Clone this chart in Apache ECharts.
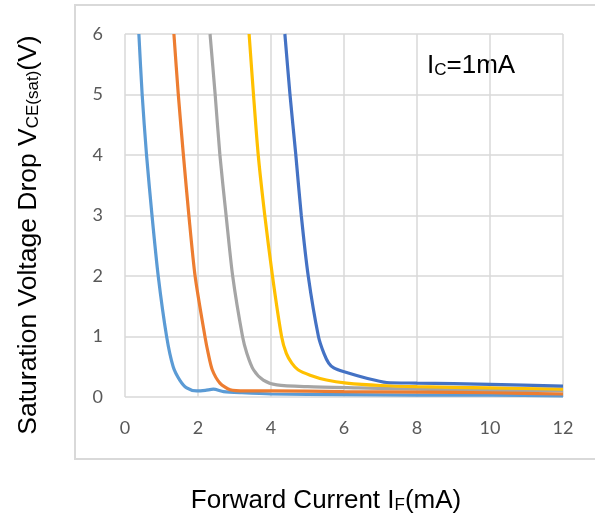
<!DOCTYPE html>
<html>
<head>
<meta charset="utf-8">
<script src="https://cdn.jsdelivr.net/npm/echarts@6/dist/echarts.min.js"></script>
<style>
html,body{margin:0;padding:0;background:#fff;}
#chart{width:595px;height:522px;}
</style>
</head>
<body>
<div id="chart"></div>
<script>
// Forward current IF (mA) and saturation voltage VCE(sat) (V) for each curve
const s1X = [0.38, 0.47, 0.59, 0.74, 0.91, 1.14, 1.32, 1.5, 1.69, 1.96, 2.2, 2.42, 2.7, 3.2, 4, 6, 8, 10, 12];
const s1Y = [6, 5, 4, 3, 2, 1, 0.5, 0.28, 0.15, 0.1, 0.11, 0.13, 0.09, 0.07, 0.05, 0.04, 0.03, 0.03, 0.02];

const s2X = [1.34, 1.46, 1.60, 1.75, 1.92, 2.19, 2.28, 2.39, 2.6, 2.88, 3.3, 4, 6, 8, 10, 12];
const s2Y = [6, 5, 4, 3, 2, 1, 0.72, 0.45, 0.23, 0.12, 0.1, 0.1, 0.09, 0.08, 0.07, 0.05];

const s3X = [2.33, 2.47, 2.60, 2.77, 2.95, 3.22, 3.34, 3.52, 3.79, 4.16, 5, 6.4, 8, 10, 12];
const s3Y = [6, 5, 4, 3, 2, 1, 0.72, 0.45, 0.28, 0.2, 0.17, 0.15, 0.13, 0.11, 0.1];

const s4X = [3.40, 3.52, 3.65, 3.83, 4.04, 4.29, 4.42, 4.57, 4.74, 5.07, 5.52, 6.07, 7, 8, 10, 12];
const s4Y = [6, 5, 4, 3, 2, 1, 0.72, 0.56, 0.45, 0.36, 0.28, 0.23, 0.19, 0.17, 0.15, 0.13];

const s5X = [4.38, 4.52, 4.68, 4.83, 5.02, 5.30, 5.45, 5.58, 5.72, 5.98, 6.62, 7.17, 8, 10, 12];
const s5Y = [6, 5, 4, 3, 2, 1, 0.72, 0.56, 0.48, 0.42, 0.31, 0.24, 0.23, 0.21, 0.18];

const xTicks = [0, 2, 4, 6, 8, 10, 12];
const yTicks = [0, 1, 2, 3, 4, 5, 6];

const seriesDefs = [
  {name: 'A', x: s1X, y: s1Y, color: '#5B9BD5'},
  {name: 'C', x: s3X, y: s3Y, color: '#A5A5A5'},
  {name: 'B', x: s2X, y: s2Y, color: '#ED7D31'},
  {name: 'D', x: s4X, y: s4Y, color: '#FFC000'},
  {name: 'E', x: s5X, y: s5Y, color: '#4472C4'}
];

const chart = echarts.init(document.getElementById('chart'), null, {renderer: 'canvas'});
const tickFont = {fontFamily: 'Lato', fontSize: 18, color: '#595959'};
const titleFont = 'Liberation Sans';

chart.setOption({
  animation: false,
  backgroundColor: '#ffffff',
  grid: {left: 125, right: 32, top: 34, bottom: 125, containLabel: false},
  xAxis: {
    type: 'value', min: xTicks[0], max: xTicks[xTicks.length - 1], interval: 2,
    axisLine: {show: false}, axisTick: {show: false},
    axisLabel: Object.assign({margin: 22}, tickFont),
    splitLine: {show: true, lineStyle: {color: '#D9D9D9', width: 1.5}}
  },
  yAxis: {
    type: 'value', min: yTicks[0], max: yTicks[yTicks.length - 1], interval: 1,
    axisLine: {show: false}, axisTick: {show: false},
    axisLabel: Object.assign({margin: 22}, tickFont),
    splitLine: {show: true, lineStyle: {color: '#D9D9D9', width: 1.5}}
  },
  series: seriesDefs.map(s => ({
    name: s.name,
    type: 'line',
    data: s.x.map((v, i) => [v, s.y[i]]),
    showSymbol: false,
    smooth: 0.25,
    clip: true,
    lineStyle: {color: s.color, width: 3.2},
    itemStyle: {color: s.color}
  })),
  graphic: [
    {
      type: 'rect', silent: true,
      shape: {x: 75, y: 5, width: 540, height: 454},
      style: {fill: 'none', stroke: '#D9D9D9', lineWidth: 2}
    },
    {
      type: 'text', x: 27, y: 235, rotation: Math.PI / 2,
      style: {
        text: '{a|Saturation Voltage Drop V}{b|CE(sat)}{a|(V)}',
        align: 'center', verticalAlign: 'middle',
        rich: {
          a: {fontFamily: titleFont, fontSize: 26.5, fill: '#000', verticalAlign: 'bottom', lineHeight: 30},
          b: {fontFamily: titleFont, fontSize: 17, fill: '#000', verticalAlign: 'bottom', lineHeight: 24}
        }
      }
    },
    {
      type: 'text', x: 326, y: 499,
      style: {
        text: '{a|Forward Current I}{b|F}{a|(mA)}',
        align: 'center', verticalAlign: 'middle',
        rich: {
          a: {fontFamily: titleFont, fontSize: 26, fill: '#000', verticalAlign: 'bottom', lineHeight: 30},
          b: {fontFamily: titleFont, fontSize: 17, fill: '#000', verticalAlign: 'bottom', lineHeight: 24}
        }
      }
    },
    {
      type: 'text', x: 427, y: 64,
      style: {
        text: '{a|I}{b|C}{a|=1mA}',
        align: 'left', verticalAlign: 'middle',
        rich: {
          a: {fontFamily: titleFont, fontSize: 26, fill: '#000', verticalAlign: 'bottom', lineHeight: 30},
          b: {fontFamily: titleFont, fontSize: 17, fill: '#000', verticalAlign: 'bottom', lineHeight: 23}
        }
      }
    }
  ]
});
</script>
</body>
</html>
